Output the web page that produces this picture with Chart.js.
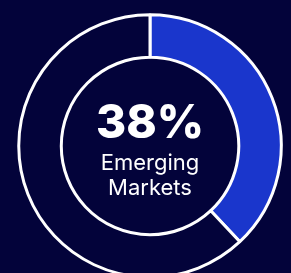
<!DOCTYPE html>
<html>
<head>
<meta charset="utf-8">
<script src="https://cdn.jsdelivr.net/npm/chart.js@4"></script>
<style>
    html, body { margin: 0; padding: 0; background: #03033a; overflow: hidden; }
    body { width: 291px; height: 273px; position: relative; }
    #wrap { position: absolute; left: 0; top: 0; width: 291px; height: 292px; }
    .label { position: absolute; left: 50px; width: 200px; text-align: center; color: #fff; font-family: Inter, sans-serif; }
    #pct { top: 98px; font-size: 46px; line-height: 46px; font-weight: 800; }
    #name { top: 149.5px; font-size: 22px; line-height: 25px; font-weight: 400; }
</style>
</head>
<body>
<div id="wrap"><canvas id="chart"></canvas></div>
<div id="pct" class="label">38%</div>
<div id="name" class="label">Emerging<br>Markets</div>
<script>
// Share of portfolio
const categories = ['Emerging Markets', 'Other'];
const shares = [38, 62];
const sliceColors = ['#1a36cc', '#03033a'];

document.addEventListener('DOMContentLoaded', function() {
    new Chart(document.getElementById('chart'), {
        type: 'doughnut',
        data: {
            labels: categories,
            datasets: [{
                data: shares,
                backgroundColor: sliceColors,
                borderColor: '#ffffff',
                borderWidth: 3,
                hoverOffset: 0
            }]
        },
        options: {
            responsive: true,
            maintainAspectRatio: false,
            animation: false,
            radius: 131.25,
            cutout: '67.6%',
            layout: { padding: { left: 9, right: 0, top: 0, bottom: 0 } },
            plugins: {
                legend: { display: false },
                tooltip: { enabled: false }
            }
        }
    });
});
</script>
</body>
</html>
